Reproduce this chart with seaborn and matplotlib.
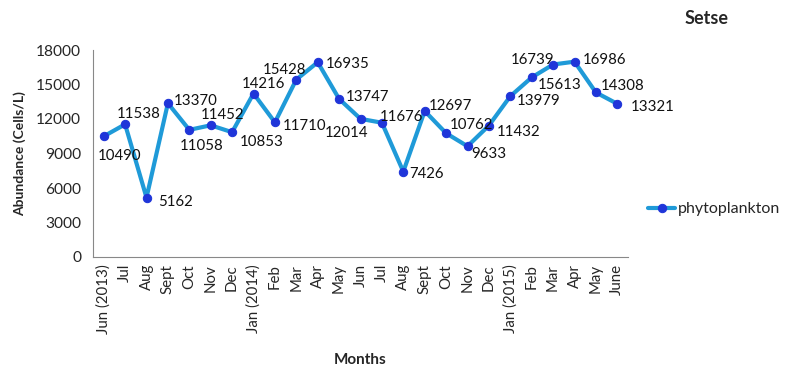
import pandas as pd
import matplotlib
matplotlib.use("Agg")
import matplotlib.pyplot as plt
import seaborn as sns

# ---- data ----
months = ["Jun (2013)", "Jul", "Aug", "Sept", "Oct", "Nov", "Dec",
          "Jan (2014)", "Feb", "Mar", "Apr", "May", "Jun", "Jul", "Aug",
          "Sept", "Oct", "Nov", "Dec", "Jan (2015)", "Feb", "Mar", "Apr",
          "May", "June"]
abundance = [10490, 11538, 5162, 13370, 11058, 11452, 10853,
             14216, 11710, 15428, 16935, 13747, 12014, 11676, 7426,
             12697, 10762, 9633, 11432, 13979, 15613, 16739, 16986,
             14308, 13321]

# label offsets (pixels), Excel-ish placement
label_pos = [(-6, -20), (-8, 10), (12, -4), (6, 2),
             (-10, -16), (-10, 10), (8, -10), (-12, 10),
             (8, -4), (-34, 10), (8, -2), (7, 2),
             (-36, -14), (-2, 6), (6, -2), (4, 5),
             (4, 8), (4, -8), (8, -6), (6, -5),
             (6, -8), (-42, 5), (8, 2), (5, 6),
             (13, -3)]

df = pd.DataFrame({"x": range(len(months)), "Abundance": abundance})

sns.set_style("white")
plt.rcParams["font.family"] = ["Lato", "DejaVu Sans"]

fig = plt.figure(figsize=(7.99, 3.74), dpi=100)
ax = fig.add_axes([93 / 799, 1 - 257 / 374, 535 / 799, 207 / 374])

sns.lineplot(data=df, x="x", y="Abundance", ax=ax, color="#1f9ad8", linewidth=3,
             marker="o", markersize=6, markerfacecolor="#1f35d9",
             markeredgecolor="#1f35d9", label="phytoplankton")

for i, v in enumerate(abundance):
    dx, dy = label_pos[i]
    ax.annotate(str(v), (i, v), xytext=(dx, dy), textcoords="offset pixels",
                ha="left", va="center", fontsize=10.8, color="#111111")

ax.set_xlim(-0.5, len(months) - 0.5)
ax.set_ylim(0, 18000)
ax.set_yticks(range(0, 18001, 3000))
ax.set_xticks(range(len(months)))
ax.set_xticklabels(months, rotation=90, fontsize=10.8)
ax.set_xticks([i - 0.5 for i in range(len(months) + 1)], minor=True)
ax.tick_params(axis="x", which="major", length=0, pad=5)
ax.tick_params(axis="x", which="minor", length=5, color="#888888", direction="out")
ax.tick_params(axis="y", length=5, color="#888888", direction="out", labelsize=11.2)

for s in ["top", "right"]:
    ax.spines[s].set_visible(False)
for s in ["left", "bottom"]:
    ax.spines[s].set_color("#888888")

ax.set_xlabel("Months", fontsize=11, fontweight="bold", labelpad=14)
ax.set_ylabel("Abundance (Cells/L)", fontsize=10, fontweight="bold", labelpad=7)

fig.text(707 / 799, 1 - 19 / 374, "Setse", ha="center", va="center",
         fontsize=13, fontweight="bold")

ax.legend(loc="center left", bbox_to_anchor=(645 / 799, 1 - 209 / 374),
          bbox_transform=fig.transFigure, frameon=False, fontsize=11.5,
          handlelength=1.7, handletextpad=0.15, borderpad=0.2, borderaxespad=0)

fig.savefig("out.png", dpi=100)
